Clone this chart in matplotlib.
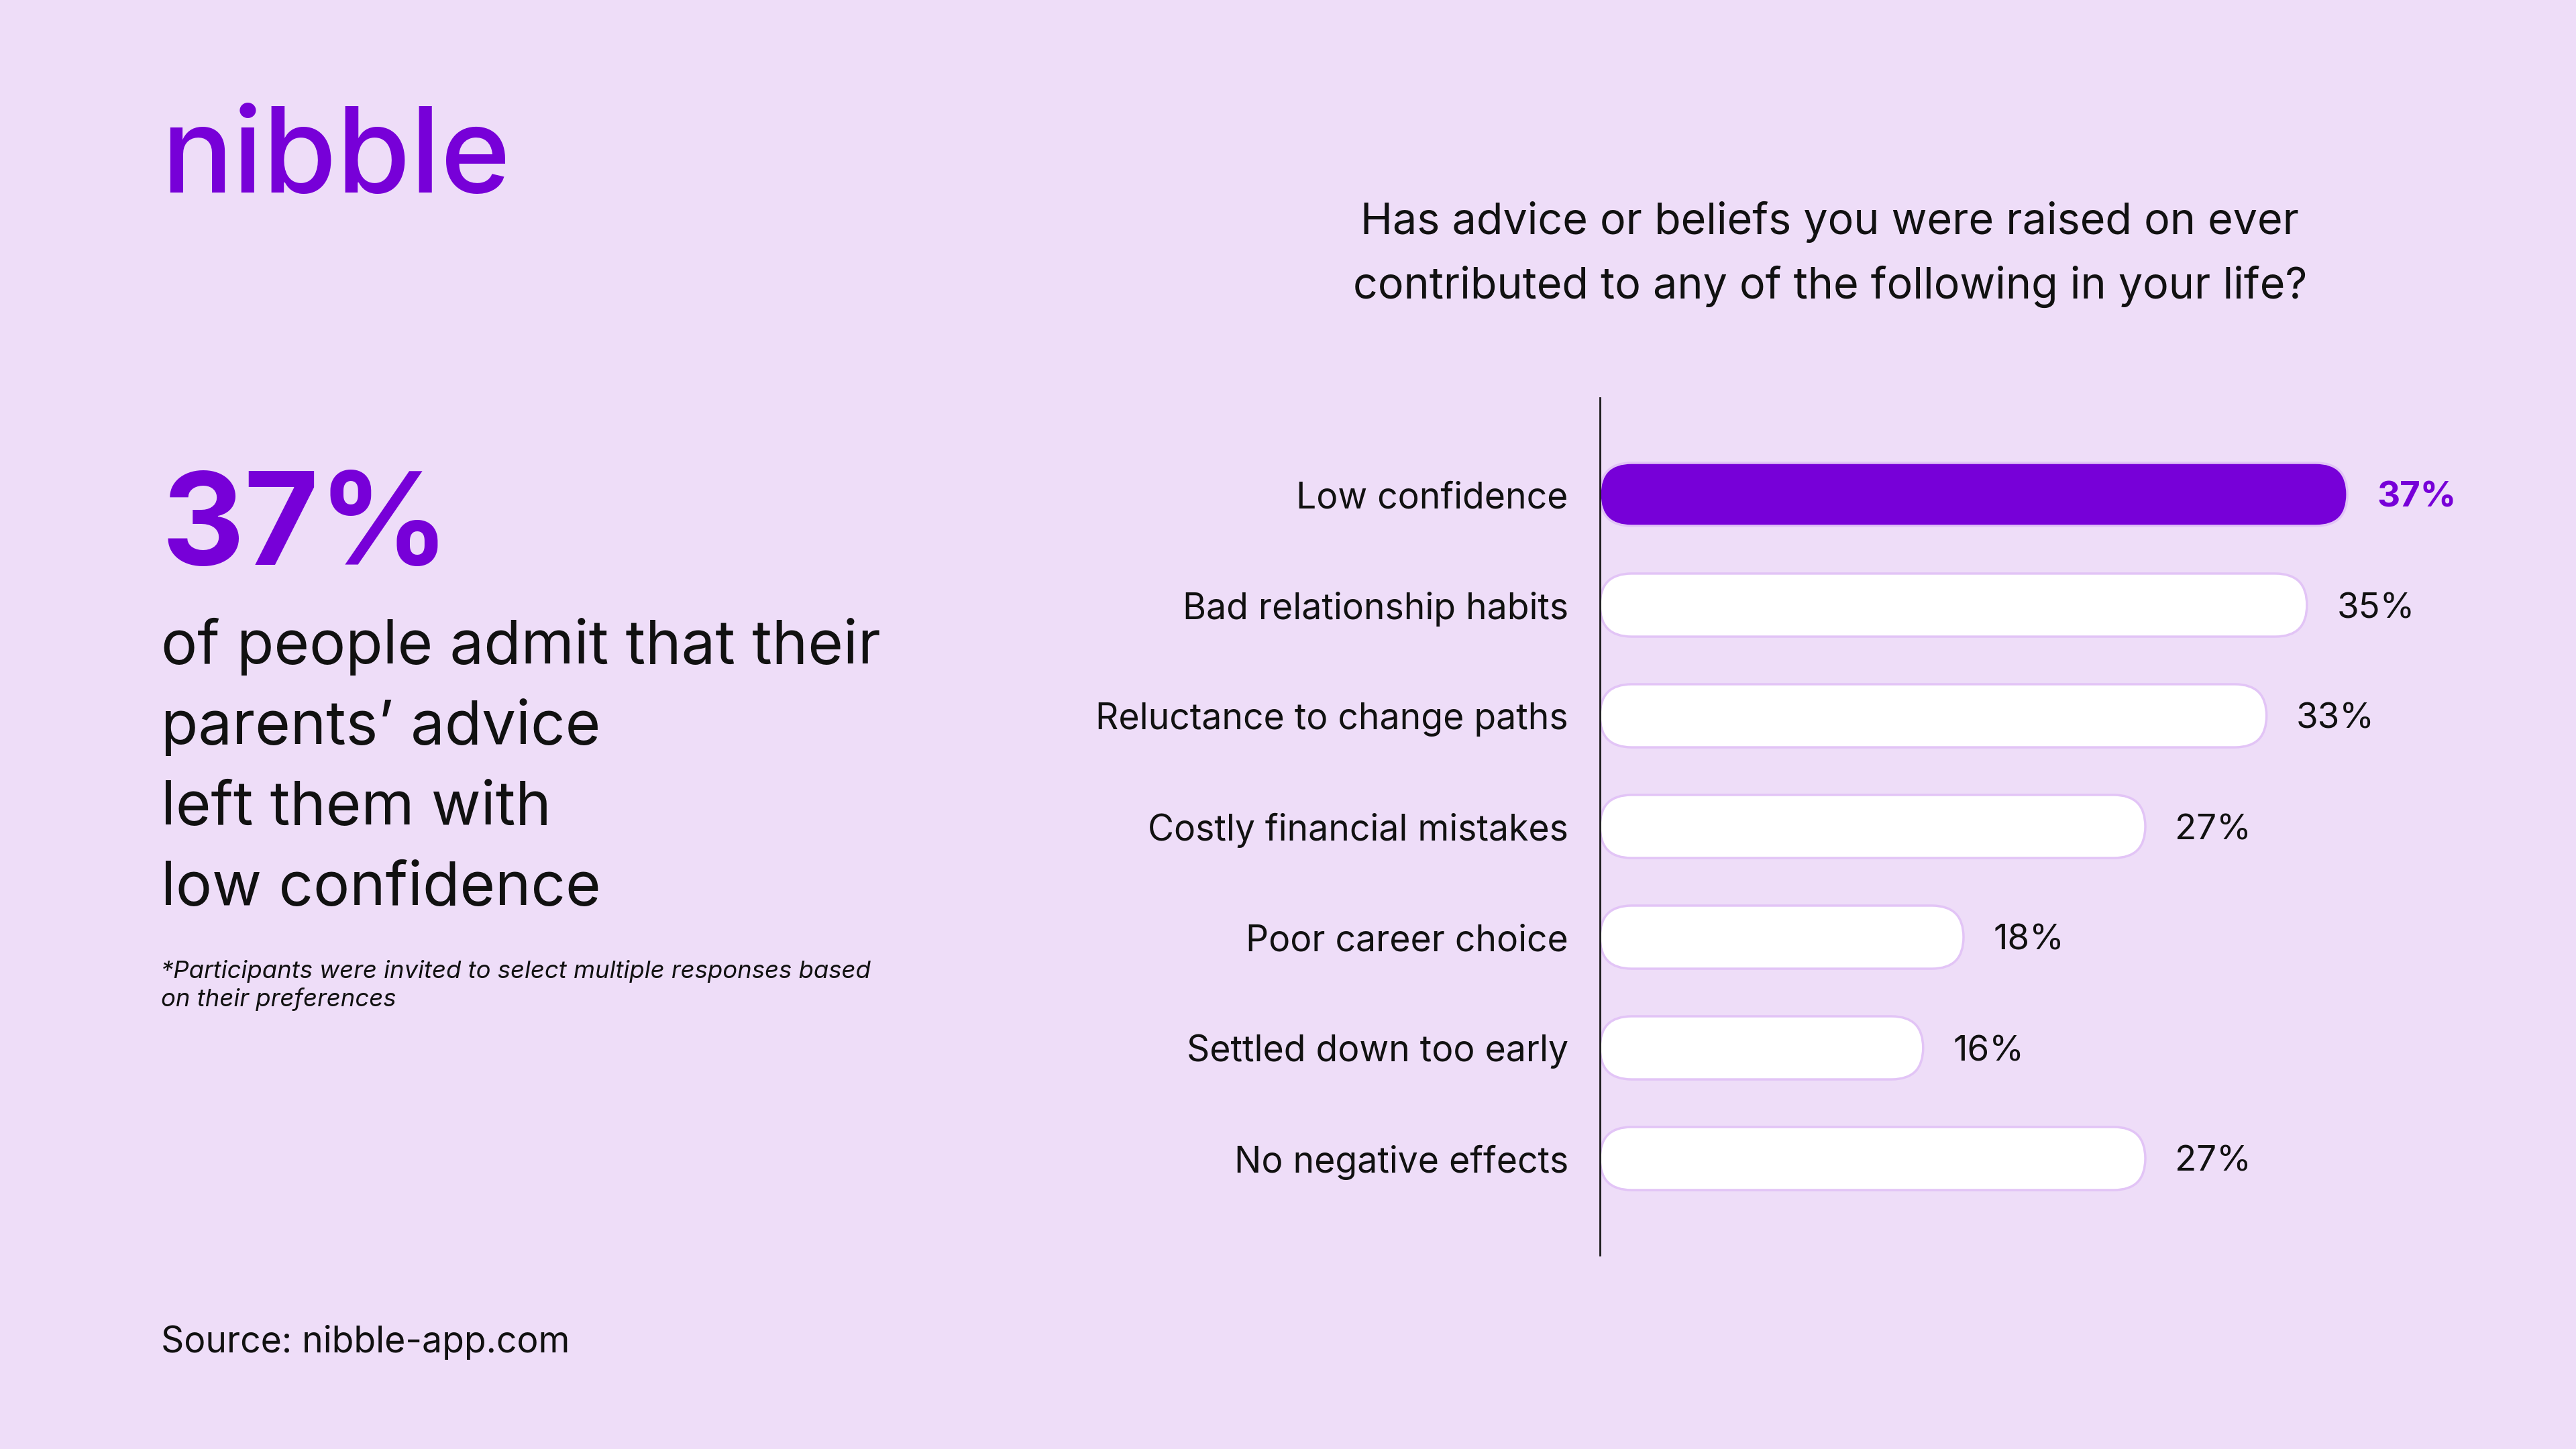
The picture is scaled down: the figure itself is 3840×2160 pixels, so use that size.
import matplotlib
matplotlib.use("Agg")
import matplotlib.pyplot as plt
from matplotlib.patches import FancyBboxPatch

plt.rcParams['font.family'] = ['Inter', 'DejaVu Sans']

# ---- data ----
categories = ["Low confidence", "Bad relationship habits", "Reluctance to change paths",
              "Costly financial mistakes", "Poor career choice", "Settled down too early",
              "No negative effects"]
values = [37, 35, 33, 27, 18, 16, 27]
value_labels = ["37%", "35%", "33%", "27%", "18%", "16%", "27%"]
highlight = "Low confidence"

title_lines = ["Has advice or beliefs you were raised on ever",
               "contributed to any of the following in your life?"]
big_stat = "37%"
body_lines = ["of people admit that their", "parents\u2019 advice", "left them with", "low confidence"]
footnote_lines = ["*Participants were invited to select multiple responses based",
                  "on their preferences"]
logo = "nibble"
source = "Source: nibble-app.com"

BG = "#EEDDF8"
PURPLE = "#7700D8"
EDGE = "#E2C4F6"
TXT = "#111111"

W, H = 3840, 2160
fig = plt.figure(figsize=(W / 100, H / 100), dpi=100, facecolor=BG)

def fx(px):
    return px / W

def fy(py):
    return 1 - py / H

# ---- bar axes ----
ax_left, ax_right = 2385, 3740
ax_top, ax_bot = 593, 1871
ax = fig.add_axes([fx(ax_left), fy(ax_bot), fx(ax_right - ax_left), (ax_bot - ax_top) / H])
ax.set_facecolor(BG)
XMAX = 45.0
ax.set_xlim(0, XMAX)
n = len(categories)
pad_units = 144 / 165
ax.set_ylim(n - 1 + pad_units, -pad_units)

px_per_x = (ax_right - ax_left) / XMAX
px_per_y = (ax_bot - ax_top) / (n - 1 + 2 * pad_units)
bar_h = 0.57
ry = bar_h / 2
rx = ry * px_per_y / px_per_x

for i, (cat, v) in enumerate(zip(categories, values)):
    hi = cat == highlight
    face = PURPLE if hi else "white"
    patch = FancyBboxPatch((0, i - bar_h / 2), v, bar_h,
                           boxstyle=f"round,pad=0,rounding_size={rx}",
                           mutation_aspect=ry / rx,
                           facecolor=face, edgecolor=EDGE, linewidth=2.5, zorder=2)
    ax.add_patch(patch)
    ax.annotate(value_labels[i], xy=(v, i), xytext=(32, 0), textcoords="offset points",
                va="center_baseline", ha="left", fontsize=38,
                color=PURPLE if hi else TXT, fontweight="bold" if hi else "normal")

ax.set_yticks(range(n))
ax.set_yticklabels(categories, fontsize=38.5, color=TXT)
ax.tick_params(axis="y", length=0, pad=34)
ax.set_xticks([])
for s in ["top", "right", "bottom"]:
    ax.spines[s].set_visible(False)
ax.spines["left"].set_color("#1a1a1a")
ax.spines["left"].set_linewidth(2)
ax.spines["left"].set_zorder(3)

# ---- text ----
fig.text(fx(240), fy(287), logo, fontsize=128, fontweight="medium", color=PURPLE,
         ha="left", va="baseline")
fig.text(fx(2728), fy(349), title_lines[0], fontsize=46.5, color=TXT, ha="center", va="baseline")
fig.text(fx(2728), fy(445), title_lines[1], fontsize=46.5, color=TXT, ha="center", va="baseline")

fig.text(fx(240), fy(842), big_stat, fontsize=138, fontweight="bold", color=PURPLE,
         ha="left", va="baseline")
for k, line in enumerate(body_lines):
    fig.text(fx(240), fy(989 + 120 * k), line, fontsize=65, color=TXT, ha="left", va="baseline")
for k, line in enumerate(footnote_lines):
    fig.text(fx(240), fy(1458 + 42 * k), line, fontsize=26.3, style="italic", color=TXT,
             ha="left", va="baseline")
fig.text(fx(240), fy(2016), source, fontsize=38.5, color=TXT, ha="left", va="baseline")

fig.savefig("out.png", dpi=100, facecolor=BG)
